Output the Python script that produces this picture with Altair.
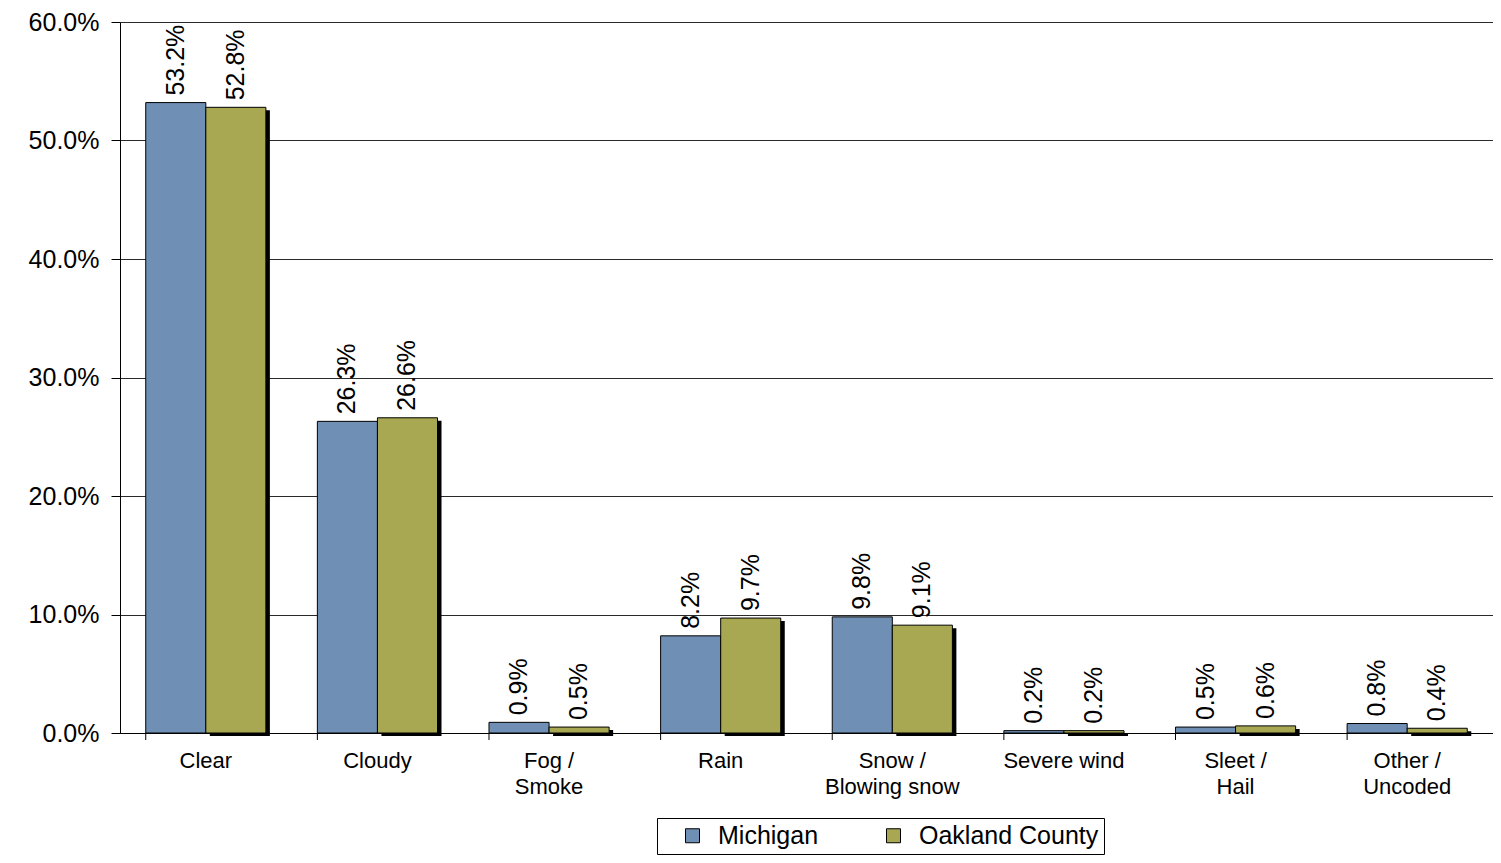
import altair as alt
import pandas as pd

categories = ["Clear", "Cloudy", "Fog / Smoke", "Rain", "Snow / Blowing snow",
              "Severe wind", "Sleet / Hail", "Other / Uncoded"]
michigan = [53.2, 26.3, 0.9, 8.2, 9.8, 0.2, 0.5, 0.8]
oakland = [52.8, 26.6, 0.5, 9.7, 9.1, 0.2, 0.6, 0.4]
series = ["Michigan", "Oakland County"]
colors = ["#6f8fb5", "#a8a852"]

rows = []
for c, m, o in zip(categories, michigan, oakland):
    rows.append({"cat": c, "series": series[0], "v": m / 100})
    rows.append({"cat": c, "series": series[1], "v": o / 100})
df = pd.DataFrame(rows)

FONT = "Liberation Sans"
W, H = 1373, 711
TOP = 14
STEP = W / 8
BARW = STEP * 0.7 / 2

x = alt.X("cat:N", sort=categories, title=None,
          scale=alt.Scale(paddingInner=0.3, paddingOuter=0.15),
          axis=alt.Axis(labelAngle=0, labelFontSize=22, labelFont=FONT, labelColor="black",
                        ticks=False, domainColor="black", labelPadding=17,
                        labelExpr="split(replace(datum.label, ' / ', ' /|'), '|')",
                        labelLineHeight=26))
y = alt.Y("v:Q", title=None,
          scale=alt.Scale(domain=[0, 0.6]),
          axis=alt.Axis(format=".1%", values=[0, 0.1, 0.2, 0.3, 0.4, 0.5, 0.6],
                        labelFontSize=25, labelFont=FONT, labelColor="black",
                        tickColor="black", tickSize=9, domainColor="black",
                        gridColor="#2a2a2a", labelPadding=12))
color = alt.Color("series:N", scale=alt.Scale(domain=series, range=colors),
                  legend=alt.Legend(orient="none", legendX=537, legendY=818 - 8 - TOP,
                                    direction="horizontal", title=None, labelFontSize=25,
                                    labelFont=FONT, labelColor="black",
                                    symbolType="square", symbolSize=196,
                                    symbolStrokeColor="black", symbolStrokeWidth=1,
                                    symbolOffset=18, labelOffset=13,
                                    strokeColor="black", padding=5,
                                    columnPadding=44, labelLimit=400))
xo = alt.XOffset("series:N", sort=series)

base = alt.Chart(df)

shadow = base.transform_filter(alt.datum.series == "Oakland County").mark_bar(
    color="black", width=BARW, xOffset=BARW / 2 + 4, yOffset=3, y2Offset=0
).encode(x=x, y=y)

bars = base.mark_bar(stroke="black", strokeWidth=1).encode(
    x=x, y=y, xOffset=xo, color=color)

labels = base.mark_text(angle=270, align="left", baseline="middle", dx=7,
                        fontSize=25, font=FONT, color="black").encode(
    x=x, y=y, xOffset=xo, text=alt.Text("v:Q", format=".1%"))

ticks = base.transform_filter(alt.datum.series == "Michigan").mark_rule(color="black").encode(
    x=alt.X("cat:N", sort=categories, bandPosition=0),
    y=alt.value(H), y2=alt.value(H + 7))

chart = alt.layer(shadow, bars, labels, ticks).properties(
    width=W, height=H,
    autosize=alt.AutoSizeParams(type="none"),
    padding={"left": 112, "top": TOP, "right": 0, "bottom": 847 - TOP - H}
).configure_view(stroke=None).configure_axis(grid=False).configure_axisY(grid=True)

chart.save("out.html", embed_options={"renderer": "svg", "actions": False})
